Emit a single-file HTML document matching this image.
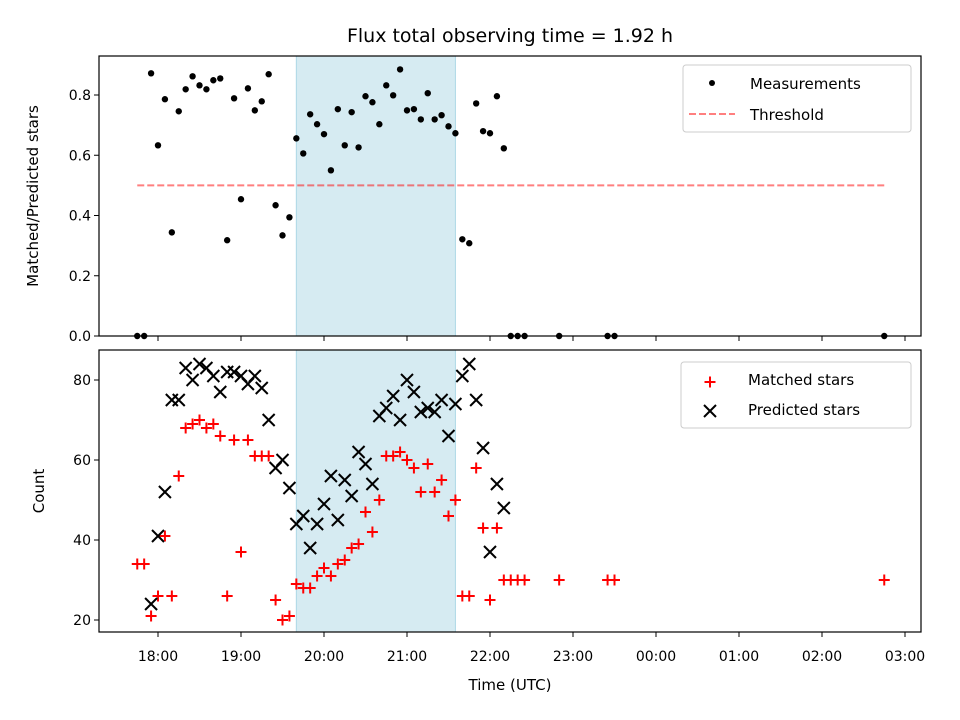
<!DOCTYPE html>
<html><head><meta charset="utf-8"><style>
body{margin:0;background:#fff;}
svg{display:block;font-family:"DejaVu Sans","Liberation Sans",sans-serif;}
</style></head><body>
<svg id="chart" width="960" height="720" viewBox="0 0 960 720"></svg>
<script>
// ---- data ----
const ratioTimes = ["17:45","17:50","17:55","18:00","18:05","18:10","18:15","18:20","18:25","18:30","18:35","18:40","18:45","18:50","18:55","19:00","19:05","19:10","19:15","19:20","19:25","19:30","19:35","19:40","19:45","19:50","19:55","20:00","20:05","20:10","20:15","20:20","20:25","20:30","20:35","20:40","20:45","20:50","20:55","21:00","21:05","21:10","21:15","21:20","21:25","21:30","21:35","21:40","21:45","21:50","21:55","22:00","22:05","22:10","22:15","22:20","22:25","22:50","23:25","23:30","02:45"];
const ratioValues = [0,0,0.872,0.633,0.786,0.344,0.746,0.819,0.862,0.832,0.819,0.849,0.855,0.318,0.789,0.454,0.822,0.749,0.779,0.869,0.434,0.334,0.394,0.656,0.606,0.736,0.703,0.670,0.550,0.753,0.633,0.743,0.626,0.796,0.776,0.703,0.832,0.799,0.885,0.749,0.753,0.719,0.806,0.719,0.733,0.696,0.673,0.321,0.308,0.772,0.680,0.673,0.796,0.623,0,0,0,0,0,0,0];
const matchedTimes = ratioTimes;
const matchedValues = [34,34,21,26,41,26,56,68,69,70,68,69,66,26,65,37,65,61,61,61,25,20,21,29,28,28,31,33,31,34,35,38,39,47,42,50,61,61,62,60,58,52,59,52,55,46,50,26,26,58,43,25,43,30,30,30,30,30,30,30,30];
const predictedTimes = ["17:55","18:00","18:05","18:10","18:15","18:20","18:25","18:30","18:35","18:40","18:45","18:50","18:55","19:00","19:05","19:10","19:15","19:20","19:25","19:30","19:35","19:40","19:45","19:50","19:55","20:00","20:05","20:10","20:15","20:20","20:25","20:30","20:35","20:40","20:45","20:50","20:55","21:00","21:05","21:10","21:15","21:20","21:25","21:30","21:35","21:40","21:45","21:50","21:55","22:00","22:05","22:10"];
const predictedValues = [24,41,52,75,75,83,80,84,83,81,77,82,82,81,79,81,78,70,58,60,53,44,46,38,44,49,56,45,55,51,62,59,54,71,73,76,70,80,77,72,73,72,75,66,74,81,84,75,63,37,54,48];
const thresholdValue = 0.5;
const thresholdRange = ["17:45","02:45"];
const spanRange = ["19:40","21:35"];
const xTickLabels = ["18:00","19:00","20:00","21:00","22:00","23:00","00:00","01:00","02:00","03:00"];
const topTicks = [0,0.2,0.4,0.6,0.8];
const bottomTicks = [20,40,60,80];

// ---- axes ----
const L=99,R=921, T1=56,B1=336, T2=350,B2=632;
function hours(t){let [h,m]=t.split(":").map(Number); if(h<12)h+=24; return h+m/60;}
const x = t => 158 + (hours(t)-18)*83;
const y1 = v => 336 - v*301.25;
const y2 = v => 620 - (v-20)*4;

const svg=document.getElementById('chart');
const NS="http://www.w3.org/2000/svg";
function el(tag,attrs,parent){const e=document.createElementNS(NS,tag);for(const k in attrs)e.setAttribute(k,attrs[k]);(parent||svg).appendChild(e);return e;}
function txt(s,attrs){const e=el('text',attrs);e.textContent=s;return e;}

const title=txt("Flux total observing time = 1.92 h",{x:510,y:42,'text-anchor':'middle','font-size':'19'});



function panel(T,B,name){
  const g=el('g',{});
  
  
  const sp=el('rect',{x:x(spanRange[0]),y:T,width:x(spanRange[1])-x(spanRange[0]),height:B-T,fill:'#add8e6','fill-opacity':0.5,stroke:'#add8e6','stroke-width':1},g);
  
  
  return g;
}
function frame(T,B,name){
  const f=el('rect',{x:L,y:T,width:R-L,height:B-T,fill:'none',stroke:'#000','stroke-width':1.2});
  
  
  xTickLabels.forEach(s=>{const xx=x(s);el('line',{x1:xx,x2:xx,y1:B,y2:B+5,stroke:'#000','stroke-width':1});});
}

// top panel
const gTop=panel(T1,B1,'ratio-panel');
const th=el('line',{x1:x(thresholdRange[0]),x2:x(thresholdRange[1]),y1:y1(thresholdValue),y2:y1(thresholdValue),stroke:'#ff0000','stroke-opacity':0.5,'stroke-width':2,'stroke-dasharray':'7,3'},gTop);


ratioTimes.forEach((t,i)=>{
  const c=el('circle',{cx:x(t),cy:y1(ratioValues[i]),r:3.2,fill:'#000'},gTop);
  
  
});
frame(T1,B1,'ratio-axes');
topTicks.forEach(v=>{const yy=y1(v);el('line',{x1:L-5,x2:L,y1:yy,y2:yy,stroke:'#000'});
  const t=txt(v.toFixed(1),{x:L-8,y:yy+5,'text-anchor':'end','font-size':'14'});
  
  });
const yl1=txt("Matched/Predicted stars",{x:0,y:0,'text-anchor':'middle','font-size':'15',transform:`translate(38,${(T1+B1)/2}) rotate(-90)`});



// bottom panel
const gBot=panel(T2,B2,'count-panel');
function plus(cx,cy,g){return el('path',{d:`M${cx-5.5},${cy}H${cx+5.5}M${cx},${cy-5.5}V${cy+5.5}`,stroke:'#ff0000','stroke-width':2},g);}
function cross(cx,cy,g){return el('path',{d:`M${cx-6},${cy-6}L${cx+6},${cy+6}M${cx-6},${cy+6}L${cx+6},${cy-6}`,stroke:'#000','stroke-width':2},g);}
matchedTimes.forEach((t,i)=>{
  const p=plus(x(t),y2(matchedValues[i]),gBot);
  
  
});
predictedTimes.forEach((t,i)=>{
  const p=cross(x(t),y2(predictedValues[i]),gBot);
  
  
});
frame(T2,B2,'count-axes');
bottomTicks.forEach(v=>{const yy=y2(v);el('line',{x1:L-5,x2:L,y1:yy,y2:yy,stroke:'#000'});
  const t=txt(String(v),{x:L-8,y:yy+5,'text-anchor':'end','font-size':'14'});
  
  });
xTickLabels.forEach(s=>{const t=txt(s,{x:x(s),y:B2+29,'text-anchor':'middle','font-size':'14'});
  
  });
const yl2=txt("Count",{x:0,y:0,'text-anchor':'middle','font-size':'15',transform:`translate(44,${(T2+B2)/2}) rotate(-90)`});


const xl=txt("Time (UTC)",{x:510,y:690,'text-anchor':'middle','font-size':'15'});



// legends
const lg1=el('g',{});


el('rect',{x:683,y:65,width:228,height:67,rx:3,fill:'#fff','fill-opacity':0.8,stroke:'#ccc'},lg1);
el('circle',{cx:712,cy:83,r:3,fill:'#000'},lg1);
el('line',{x1:689,x2:735,y1:114,y2:114,stroke:'#ff0000','stroke-opacity':0.5,'stroke-width':2,'stroke-dasharray':'7,3'},lg1);
const le1=txt("Measurements",{x:750,y:89,'font-size':'15'});lg1.appendChild(le1);


const le2=txt("Threshold",{x:750,y:120,'font-size':'15'});lg1.appendChild(le2);



const lg2=el('g',{});


el('rect',{x:681,y:362,width:230,height:66,rx:3,fill:'#fff','fill-opacity':0.8,stroke:'#ccc'},lg2);
plus(710,382,lg2);
cross(710,411,lg2);
const le3=txt("Matched stars",{x:748,y:385,'font-size':'15'});lg2.appendChild(le3);


const le4=txt("Predicted stars",{x:748,y:415,'font-size':'15'});lg2.appendChild(le4);


</script>
</body></html>
